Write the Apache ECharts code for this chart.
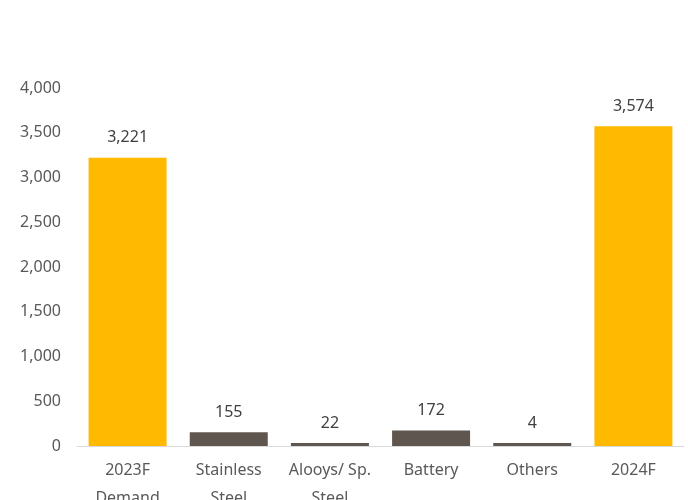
<!DOCTYPE html>
<html><head><meta charset="utf-8">
<script src="https://cdn.jsdelivr.net/npm/echarts@6/dist/echarts.min.js"></script>
<style>html,body{margin:0;padding:0;background:#fff}#c{width:688px;height:500px}</style>
</head><body><div id="c"></div>
<script>
const categories = ['2023F\nDemand', 'Stainless\nSteel', 'Alooys/ Sp.\nSteel', 'Battery', 'Others', '2024F'];
const values = [3221, 155, 22, 172, 4, 3574];
const isTotal = [true, false, false, false, false, true];
const yTicks = [0, 500, 1000, 1500, 2000, 2500, 3000, 3500, 4000];

const fmt = v => Number(v).toLocaleString('en-US');
const chart = echarts.init(document.getElementById('c'));
chart.setOption({
  animation: false,
  grid: { left: 77, right: 4, top: 88, bottom: 54, containLabel: false, outerBoundsMode: 'none' },
  xAxis: {
    type: 'category', data: categories,
    axisLine: { show: true, lineStyle: { color: '#d9d9d9', width: 1 } },
    axisTick: { show: false },
    axisLabel: { color: '#595959', fontFamily: 'Noto Sans', fontSize: 16, margin: 10, lineHeight: 28, interval: 0 }
  },
  yAxis: {
    type: 'value', min: yTicks[0], max: yTicks[yTicks.length - 1], interval: 500,
    splitLine: { show: false },
    axisLine: { show: false }, axisTick: { show: false },
    axisLabel: { color: '#595959', fontFamily: 'Noto Sans', fontSize: 16, margin: 16, formatter: v => fmt(v) }
  },
  series: [{
    type: 'bar', barWidth: 78, barMinHeight: 3,
    data: values.map((v, i) => ({ value: v, itemStyle: { color: isTotal[i] ? '#FFB900' : '#5F574F' } })),
    label: { show: true, position: 'top', distance: 12, color: '#404040', fontFamily: 'Noto Sans', fontSize: 16, formatter: p => fmt(p.value) }
  }]
});
</script></body></html>
